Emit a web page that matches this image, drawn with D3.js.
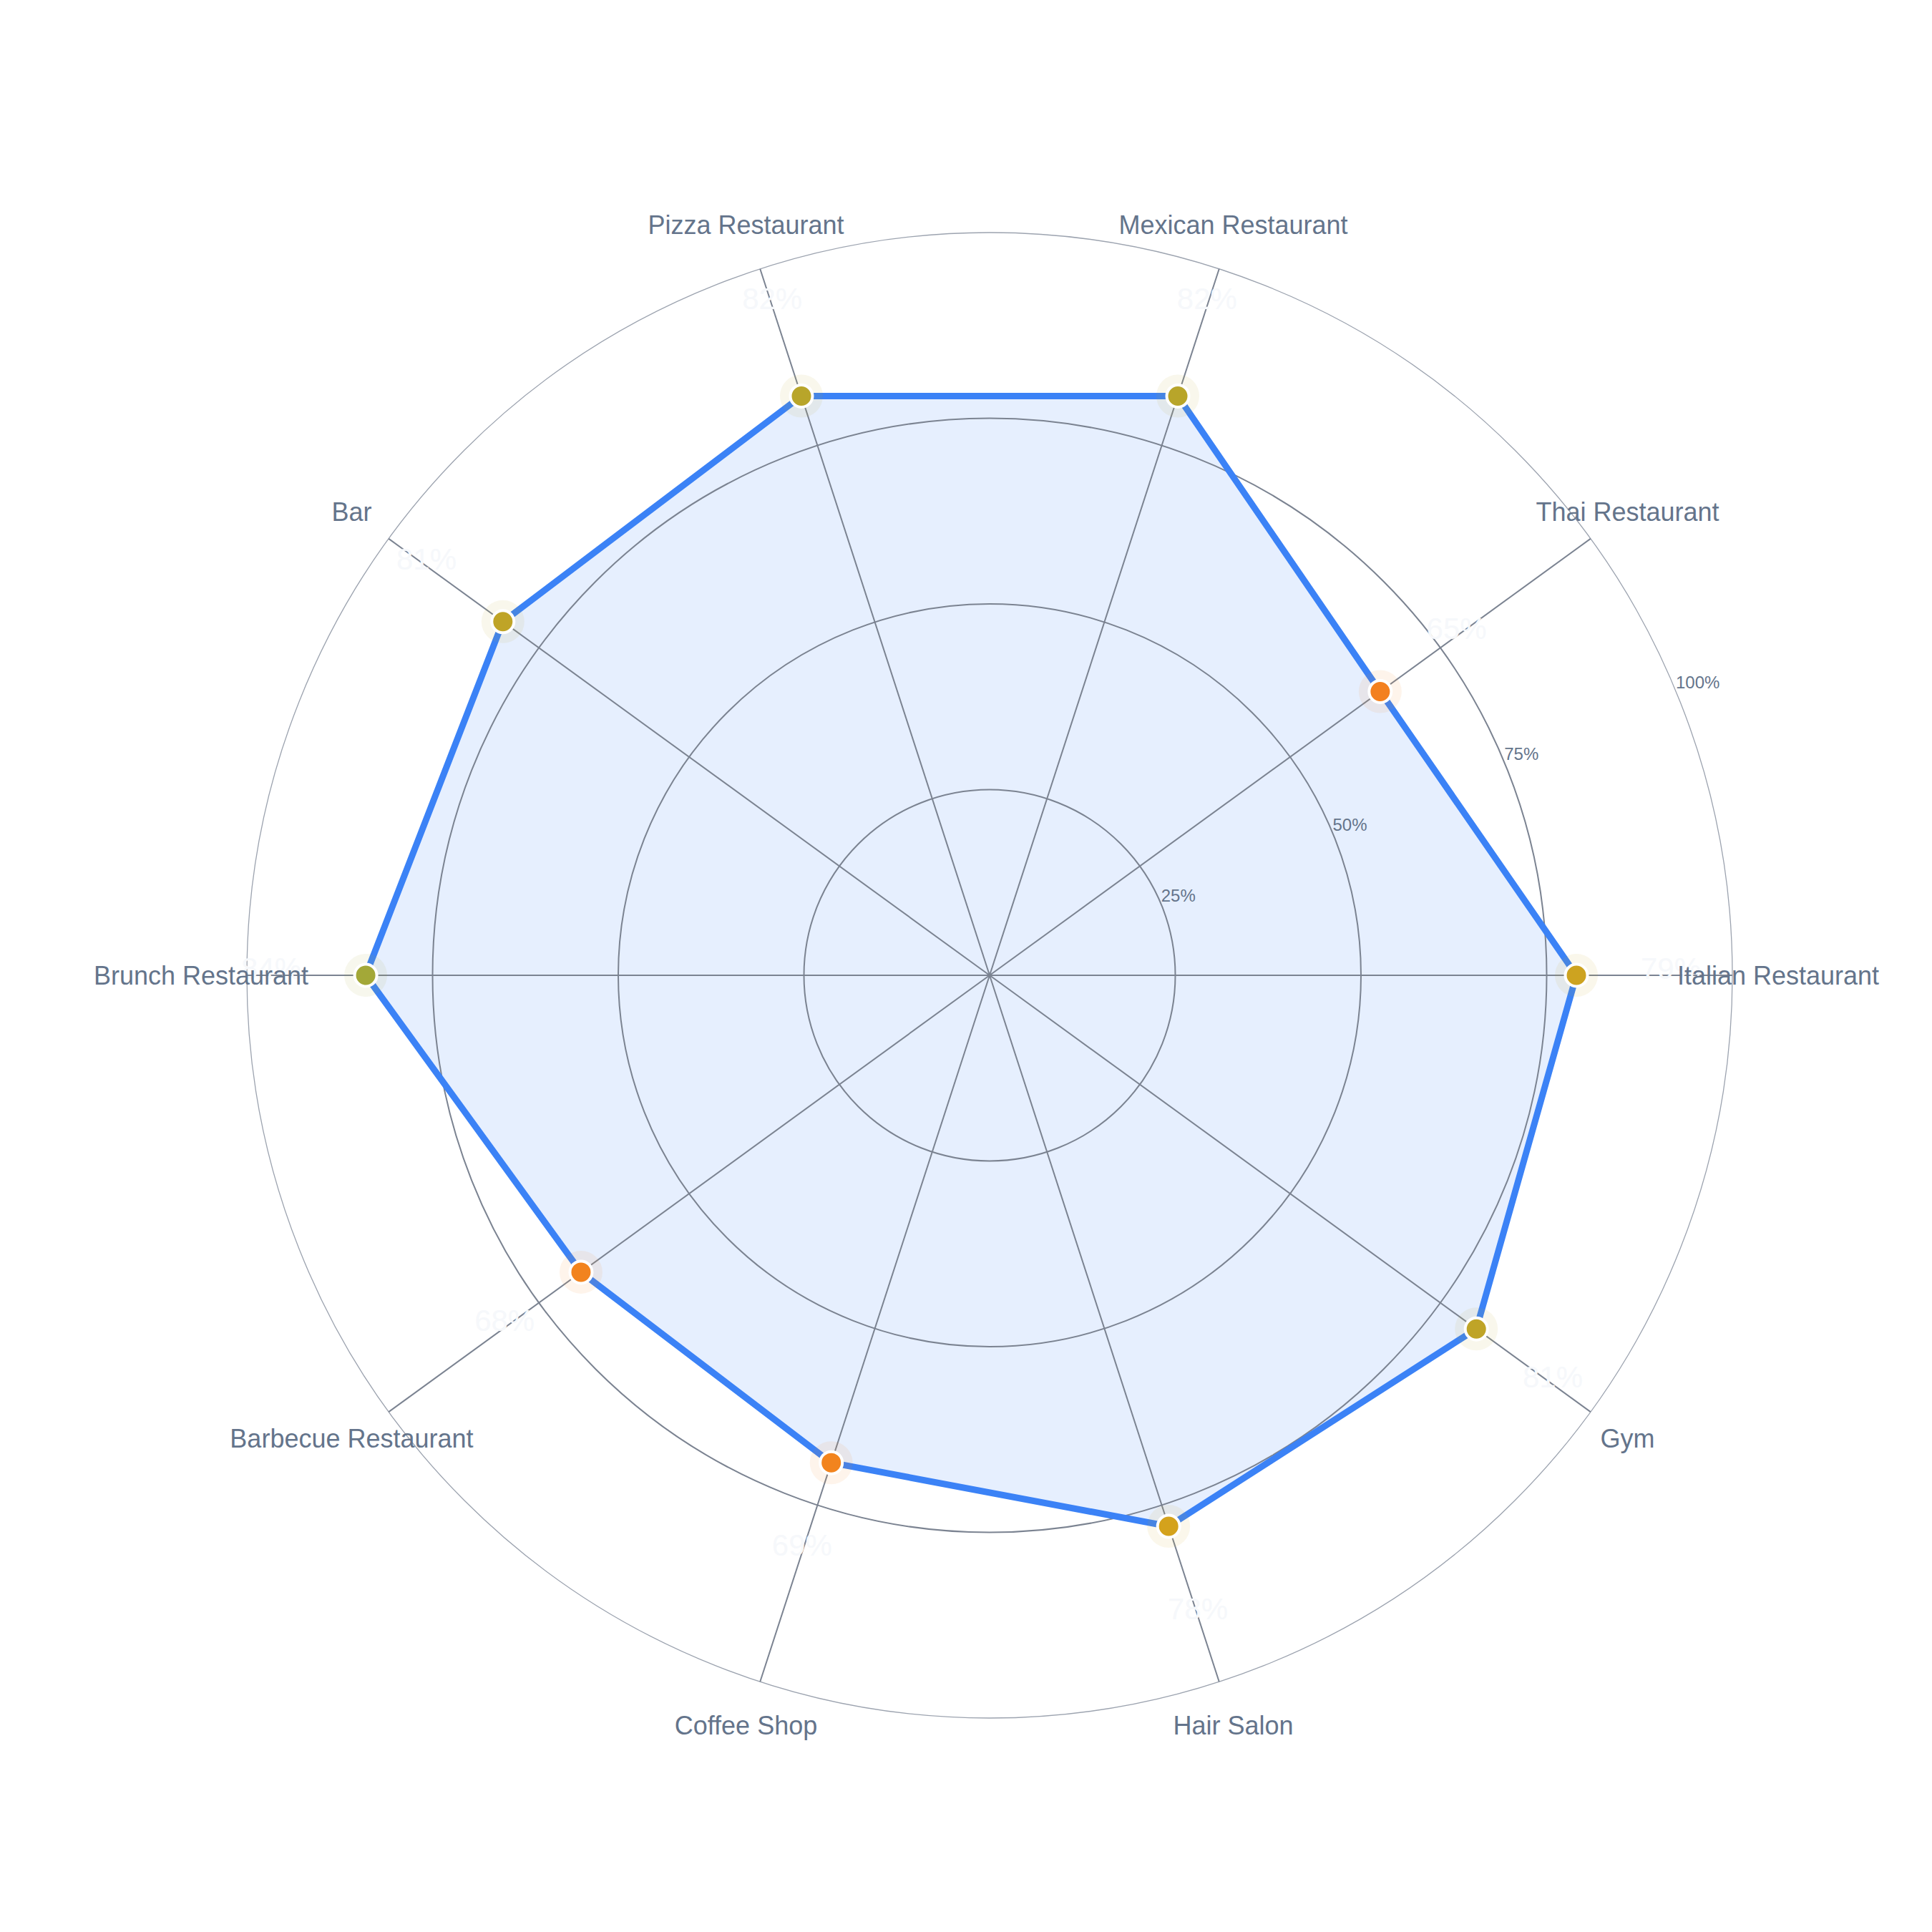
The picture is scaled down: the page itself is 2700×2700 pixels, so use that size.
<!DOCTYPE html>
<html>
<head>
<meta charset="utf-8">
<script src="https://cdn.jsdelivr.net/npm/d3@7"></script>
<style>
  body { margin: 0; background: #fff; }
  text { font-family: "Liberation Sans", Arial, Helvetica, sans-serif; }
</style>
</head>
<body>
<div id="chart"></div>
<script>
// data
var categories = ["Italian Restaurant", "Thai Restaurant", "Mexican Restaurant", "Pizza Restaurant", "Bar",
  "Brunch Restaurant", "Barbecue Restaurant", "Coffee Shop", "Hair Salon", "Gym"];
var values = [79, 65, 82, 82, 81, 84, 68, 69, 78, 81];
var ticks = [25, 50, 75, 100];
var tickLabels = ["25%", "50%", "75%", "100%"];

var W = 2700, H = 2700, cx = 1383, cy = 1363, R = 1038;

var svg = d3.select("#chart").append("svg").attr("width", W).attr("height", H)
  .style("background", "#fff");
var g = svg.append("g").attr("transform", "translate(" + cx + "," + cy + ")");

var r = d3.scaleLinear().domain([0, 100]).range([0, R]);
var ang = d3.scaleLinear().domain([0, categories.length]).range([0, 2 * Math.PI]);
var col = d3.scaleLinear().domain([65, 70, 78, 82, 84])
  .range(["#f3801f", "#f2851e", "#d4a21c", "#b8a52a", "#a3a838"]);

function px(i, rr) { return rr * Math.cos(ang(i)); }
function py(i, rr) { return -rr * Math.sin(ang(i)); }

// polygon fill
var line = d3.lineRadial()
  .angle(function(d, i) { return Math.PI / 2 - ang(i); })
  .radius(function(d) { return r(d); })
  .curve(d3.curveLinearClosed);

g.append("path").attr("d", line(values))
  .style("fill", "#3b82f6").style("fill-opacity", 0.13).style("stroke", "none");

// rings
g.selectAll("circle.ring").data(ticks).enter().append("circle")
  .attr("class", "ring").attr("r", function(d) { return r(d); })
  .style("fill", "none")
  .style("stroke", function(d) { return d == 100 ? "#9ca3af" : "#7b8391"; })
  .style("stroke-width", function(d) { return d == 100 ? 1.3 : 2; })

// spokes
g.selectAll("line.spoke").data(categories).enter().append("line")
  .attr("class", "spoke")
  .attr("x1", 0).attr("y1", 0)
  .attr("x2", function(d, i) { return px(i, r(100)); })
  .attr("y2", function(d, i) { return py(i, r(100)); })
  .style("stroke", "#7b8391").style("stroke-width", 2)

// outline
g.append("path").attr("d", line(values))
  .style("fill", "none").style("stroke", "#3b82f6").style("stroke-width", 9)
  .style("stroke-linejoin", "round");

// markers
var mk = g.selectAll("g.mk").data(values).enter().append("g").attr("class", "mk")
  .attr("transform", function(d, i) { return "translate(" + px(i, r(d)) + "," + py(i, r(d)) + ")"; });
mk.append("circle").attr("r", 30)
  .style("fill", function(d) { return col(d); }).style("fill-opacity", 0.09);
mk.append("circle").attr("r", 15.5)
  .style("fill", function(d) { return col(d); })
  .style("stroke", "#fff").style("stroke-width", 4);

// value labels
g.selectAll("text.val").data(values).enter().append("text")
  .attr("class", "val")
  .attr("x", function(d, i) { return px(i, r(d) + 132); })
  .attr("y", function(d, i) { return py(i, r(d) + 132); })
  .attr("dy", -10)
  .attr("text-anchor", "middle").attr("dominant-baseline", "central")
  .style("font-size", "42px").style("fill", "#f6f8fb")
  .text(function(d) { return d + "%"; });

// tick labels
var ta = Math.PI / 8;
g.selectAll("text.tick").data(ticks).enter().append("text")
  .attr("class", "tick")
  .attr("x", function(d) { return r(d) * Math.cos(ta); })
  .attr("y", function(d) { return -r(d) * Math.sin(ta); })
  .attr("dy", -12).attr("dominant-baseline", "central")
  .style("font-size", "24px").style("fill", "#64748b")
  .text(function(d, i) { return tickLabels[i]; });

// category labels
g.selectAll("text.cat").data(categories).enter().append("text")
  .attr("class", "cat")
  .attr("x", function(d, i) { return px(i, r(100) + 64); })
  .attr("y", function(d, i) { return py(i, r(100) + 64); })
  .attr("text-anchor", "middle").attr("dominant-baseline", "central")
  .style("font-size", "36px").style("fill", "#64748b")
  .text(String);
</script>
</body>
</html>
